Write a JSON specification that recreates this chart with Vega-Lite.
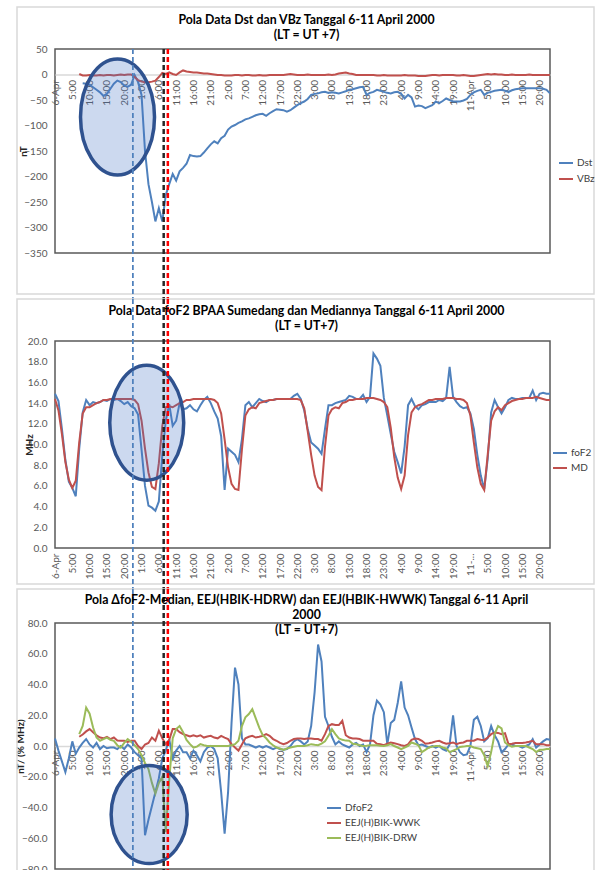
{
  "$schema": "https://vega.github.io/schema/vega-lite/v6.json",
  "padding": {"left": 14, "top": 5, "right": 0, "bottom": 0},
  "autosize": {"type": "pad"},
  "bounds": "flush",
  "spacing": 88,
  "datasets": {
    "events": [{"ev": "onset", "h": 22.5}, {"ev": "ssc", "h": 31.4}, {"ev": "main", "h": 32.6}],
    "dst": [
      {"h":7,"VBz":1},{"h":8,"Dst":-17,"VBz":-2},{"h":9,"Dst":-18,"VBz":-2},{"h":10,"Dst":-20,"VBz":-1},{"h":11,"Dst":-25,"VBz":-2},{"h":12,"Dst":-30,"VBz":-2},{"h":13,"Dst":-35,"VBz":-1},{"h":14,"Dst":-42,"VBz":-2},{"h":15,"Dst":-38,"VBz":-1},{"h":16,"Dst":-28,"VBz":-1},{"h":17,"Dst":-18,"VBz":-2},{"h":18,"Dst":-12,"VBz":-1},{"h":19,"Dst":-15,"VBz":0},{"h":20,"Dst":-22,"VBz":-1},{"h":21,"Dst":-24,"VBz":0},{"h":22,"Dst":-20,"VBz":0},{"h":23,"Dst":-1,"VBz":-5},{"h":24,"Dst":-15,"VBz":-11},{"h":25,"Dst":-40,"VBz":-14},{"h":26,"Dst":-150,"VBz":-15},{"h":27,"Dst":-215,"VBz":-15},{"h":28,"Dst":-250,"VBz":-14},{"h":29,"Dst":-288,"VBz":-12},{"h":30,"Dst":-262,"VBz":-5},{"h":31,"Dst":-288,"VBz":3},{"h":32,"Dst":-236,"VBz":1},{"h":33,"Dst":-215,"VBz":4},{"h":34,"Dst":-195,"VBz":1},{"h":35,"Dst":-208,"VBz":-1},{"h":36,"Dst":-190,"VBz":4},{"h":37,"Dst":-183,"VBz":8},{"h":38,"Dst":-175,"VBz":6},{"h":39,"Dst":-158,"VBz":5},{"h":40,"Dst":-160,"VBz":4},{"h":41,"Dst":-161,"VBz":4},{"h":42,"Dst":-160,"VBz":3},{"h":43,"Dst":-153,"VBz":2},{"h":44,"Dst":-145,"VBz":2},{"h":45,"Dst":-137,"VBz":1},{"h":46,"Dst":-131,"VBz":0},{"h":47,"Dst":-135,"VBz":-1},{"h":48,"Dst":-125,"VBz":-1},{"h":49,"Dst":-120,"VBz":-2},{"h":50,"Dst":-108,"VBz":-2},{"h":51,"Dst":-102,"VBz":-2},{"h":52,"Dst":-99,"VBz":-1},{"h":53,"Dst":-95,"VBz":-1},{"h":54,"Dst":-92,"VBz":-2},{"h":55,"Dst":-88,"VBz":-1},{"h":56,"Dst":-86,"VBz":-1},{"h":57,"Dst":-83,"VBz":-2},{"h":58,"Dst":-80,"VBz":-2},{"h":59,"Dst":-78,"VBz":-1},{"h":60,"Dst":-77,"VBz":-2},{"h":61,"Dst":-81,"VBz":-2},{"h":62,"Dst":-76,"VBz":-1},{"h":63,"Dst":-72,"VBz":-1},{"h":64,"Dst":-68,"VBz":-1},{"h":65,"Dst":-69,"VBz":-1},{"h":66,"Dst":-70,"VBz":-1},{"h":67,"Dst":-73,"VBz":0},{"h":68,"Dst":-70,"VBz":1},{"h":69,"Dst":-65,"VBz":0},{"h":70,"Dst":-60,"VBz":-1},{"h":71,"Dst":-56,"VBz":-1},{"h":72,"Dst":-53,"VBz":-1},{"h":73,"Dst":-48,"VBz":0},{"h":74,"Dst":-40,"VBz":-1},{"h":75,"Dst":-38,"VBz":-1},{"h":76,"Dst":-37,"VBz":-1},{"h":77,"Dst":-35,"VBz":-1},{"h":78,"Dst":-34,"VBz":-1},{"h":79,"Dst":-36,"VBz":0},{"h":80,"Dst":-35,"VBz":-1},{"h":81,"Dst":-36,"VBz":0},{"h":82,"Dst":-37,"VBz":2},{"h":83,"Dst":-35,"VBz":3},{"h":84,"Dst":-33,"VBz":4},{"h":85,"Dst":-30,"VBz":2},{"h":86,"Dst":-29,"VBz":1},{"h":87,"Dst":-27,"VBz":-1},{"h":88,"Dst":-25,"VBz":-1},{"h":89,"Dst":-24,"VBz":-1},{"h":90,"Dst":-40,"VBz":-1},{"h":91,"Dst":-36,"VBz":-1},{"h":92,"Dst":-34,"VBz":-1},{"h":93,"Dst":-30,"VBz":-2},{"h":94,"Dst":-32,"VBz":-2},{"h":95,"Dst":-34,"VBz":-1},{"h":96,"Dst":-36,"VBz":-2},{"h":97,"Dst":-37,"VBz":-2},{"h":98,"Dst":-35,"VBz":-2},{"h":99,"Dst":-34,"VBz":-2},{"h":100,"Dst":-38,"VBz":-2},{"h":101,"Dst":-47,"VBz":-1},{"h":102,"Dst":-40,"VBz":-2},{"h":103,"Dst":-45,"VBz":-2},{"h":104,"Dst":-63,"VBz":-2},{"h":105,"Dst":-61,"VBz":-3},{"h":106,"Dst":-62,"VBz":-3},{"h":107,"Dst":-66,"VBz":-3},{"h":108,"Dst":-63,"VBz":-2},{"h":109,"Dst":-60,"VBz":-1},{"h":110,"Dst":-53,"VBz":-1},{"h":111,"Dst":-56,"VBz":-2},{"h":112,"Dst":-52,"VBz":-1},{"h":113,"Dst":-47,"VBz":-1},{"h":114,"Dst":-50,"VBz":-1},{"h":115,"Dst":-53,"VBz":-1},{"h":116,"Dst":-53,"VBz":-2},{"h":117,"Dst":-53,"VBz":-2},{"h":118,"Dst":-51,"VBz":-1},{"h":119,"Dst":-48,"VBz":-2},{"h":120,"Dst":-40,"VBz":-3},{"h":121,"Dst":-35,"VBz":-3},{"h":122,"Dst":-32,"VBz":-2},{"h":123,"Dst":-30,"VBz":-1},{"h":124,"Dst":-40,"VBz":0},{"h":125,"Dst":-36,"VBz":1},{"h":126,"Dst":-34,"VBz":0},{"h":127,"Dst":-32,"VBz":1},{"h":128,"Dst":-31,"VBz":0},{"h":129,"Dst":-30,"VBz":0},{"h":130,"Dst":-32,"VBz":-1},{"h":131,"Dst":-34,"VBz":-1},{"h":132,"Dst":-31,"VBz":0},{"h":133,"Dst":-29,"VBz":-1},{"h":134,"Dst":-28,"VBz":-1},{"h":135,"Dst":-27,"VBz":-1},{"h":136,"Dst":-27,"VBz":-1},{"h":137,"Dst":-27,"VBz":0},{"h":138,"Dst":-27,"VBz":-1},{"h":139,"Dst":-27,"VBz":-1},{"h":140,"Dst":-27,"VBz":-1},{"h":141,"Dst":-28,"VBz":-1},{"h":142,"Dst":-30,"VBz":-1},{"h":143,"Dst":-37,"VBz":-1}
    ],
    "fof2": [
      {"h":0,"foF2":14.9,"MD":14.4},{"h":1,"foF2":14.2,"MD":13.3},{"h":2,"foF2":11.5,"MD":11.0},{"h":3,"foF2":8.5,"MD":8.3},{"h":4,"foF2":6.4,"MD":6.6},{"h":5,"foF2":5.8,"MD":5.8},{"h":6,"foF2":5.0,"MD":6.5},{"h":7,"foF2":9.6,"MD":10.2},{"h":8,"foF2":13.1,"MD":13.0},{"h":9,"foF2":14.3,"MD":13.6},{"h":10,"foF2":13.8,"MD":13.6},{"h":11,"foF2":14.1,"MD":13.8},{"h":12,"foF2":14.0,"MD":14.0},{"h":13,"foF2":14.1,"MD":14.1},{"h":14,"foF2":14.3,"MD":14.3},{"h":15,"foF2":14.2,"MD":14.3},{"h":16,"foF2":14.4,"MD":14.4},{"h":17,"foF2":14.3,"MD":14.4},{"h":18,"foF2":14.4,"MD":14.4},{"h":19,"foF2":14.2,"MD":14.4},{"h":20,"foF2":13.9,"MD":14.4},{"h":21,"foF2":14.1,"MD":14.4},{"h":22,"foF2":13.7,"MD":14.4},{"h":23,"foF2":13.5,"MD":14.3},{"h":24,"foF2":12.9,"MD":13.9},{"h":25,"foF2":9.5,"MD":12.3},{"h":26,"foF2":6.0,"MD":9.6},{"h":27,"foF2":4.1,"MD":7.3},{"h":28,"foF2":3.9,"MD":5.9},{"h":29,"foF2":3.6,"MD":5.7},{"h":30,"foF2":4.5,"MD":8.2},{"h":31,"foF2":9.0,"MD":11.8},{"h":32,"foF2":12.3,"MD":13.6},{"h":33,"foF2":13.9,"MD":13.7},{"h":34,"foF2":11.8,"MD":13.6},{"h":35,"foF2":12.3,"MD":13.8},{"h":36,"foF2":14.0,"MD":14.0},{"h":37,"foF2":13.4,"MD":14.1},{"h":38,"foF2":13.5,"MD":14.3},{"h":39,"foF2":13.8,"MD":14.3},{"h":40,"foF2":13.4,"MD":14.4},{"h":41,"foF2":13.2,"MD":14.4},{"h":42,"foF2":13.8,"MD":14.4},{"h":43,"foF2":14.3,"MD":14.4},{"h":44,"foF2":14.6,"MD":14.4},{"h":45,"foF2":14.0,"MD":14.4},{"h":46,"foF2":13.2,"MD":14.3},{"h":47,"foF2":12.5,"MD":14.0},{"h":48,"foF2":10.8,"MD":13.0},{"h":49,"foF2":5.6,"MD":10.5},{"h":50,"foF2":9.6,"MD":7.8},{"h":51,"foF2":9.3,"MD":6.2},{"h":52,"foF2":9.0,"MD":5.7},{"h":53,"foF2":8.3,"MD":5.6},{"h":54,"foF2":10.5,"MD":9.5},{"h":55,"foF2":13.8,"MD":12.8},{"h":56,"foF2":14.1,"MD":13.4},{"h":57,"foF2":13.6,"MD":13.6},{"h":58,"foF2":14.0,"MD":13.5},{"h":59,"foF2":14.4,"MD":14.0},{"h":60,"foF2":14.2,"MD":14.1},{"h":61,"foF2":14.1,"MD":14.2},{"h":62,"foF2":14.3,"MD":14.3},{"h":63,"foF2":14.3,"MD":14.3},{"h":64,"foF2":14.4,"MD":14.4},{"h":65,"foF2":14.4,"MD":14.4},{"h":66,"foF2":14.4,"MD":14.4},{"h":67,"foF2":14.4,"MD":14.4},{"h":68,"foF2":14.4,"MD":14.4},{"h":69,"foF2":14.7,"MD":14.4},{"h":70,"foF2":14.9,"MD":14.4},{"h":71,"foF2":14.4,"MD":14.3},{"h":72,"foF2":13.3,"MD":13.5},{"h":73,"foF2":11.5,"MD":11.3},{"h":74,"foF2":10.2,"MD":9.0},{"h":75,"foF2":9.9,"MD":7.0},{"h":76,"foF2":9.6,"MD":5.9},{"h":77,"foF2":9.1,"MD":5.6},{"h":78,"foF2":11.5,"MD":9.8},{"h":79,"foF2":13.8,"MD":12.8},{"h":80,"foF2":13.8,"MD":13.4},{"h":81,"foF2":14.0,"MD":13.6},{"h":82,"foF2":14.1,"MD":13.5},{"h":83,"foF2":14.2,"MD":14.0},{"h":84,"foF2":14.3,"MD":14.1},{"h":85,"foF2":14.7,"MD":14.3},{"h":86,"foF2":14.6,"MD":14.3},{"h":87,"foF2":14.4,"MD":14.4},{"h":88,"foF2":14.4,"MD":14.4},{"h":89,"foF2":14.8,"MD":14.4},{"h":90,"foF2":14.1,"MD":14.5},{"h":91,"foF2":14.6,"MD":14.5},{"h":92,"foF2":18.8,"MD":14.5},{"h":93,"foF2":18.3,"MD":14.4},{"h":94,"foF2":17.6,"MD":14.3},{"h":95,"foF2":14.5,"MD":14.1},{"h":96,"foF2":12.8,"MD":13.6},{"h":97,"foF2":11.0,"MD":11.6},{"h":98,"foF2":9.3,"MD":8.8},{"h":99,"foF2":8.3,"MD":6.8},{"h":100,"foF2":7.2,"MD":5.7},{"h":101,"foF2":9.8,"MD":7.0},{"h":102,"foF2":13.8,"MD":10.9},{"h":103,"foF2":14.4,"MD":13.1},{"h":104,"foF2":13.7,"MD":13.6},{"h":105,"foF2":13.4,"MD":13.8},{"h":106,"foF2":13.8,"MD":13.9},{"h":107,"foF2":13.9,"MD":14.1},{"h":108,"foF2":14.1,"MD":14.3},{"h":109,"foF2":14.1,"MD":14.3},{"h":110,"foF2":14.1,"MD":14.4},{"h":111,"foF2":14.3,"MD":14.4},{"h":112,"foF2":14.2,"MD":14.4},{"h":113,"foF2":14.5,"MD":14.5},{"h":114,"foF2":17.5,"MD":14.5},{"h":115,"foF2":14.6,"MD":14.5},{"h":116,"foF2":14.1,"MD":14.4},{"h":117,"foF2":13.7,"MD":14.4},{"h":118,"foF2":13.5,"MD":14.3},{"h":119,"foF2":13.6,"MD":14.0},{"h":120,"foF2":13.0,"MD":12.8},{"h":121,"foF2":11.5,"MD":10.2},{"h":122,"foF2":9.0,"MD":7.8},{"h":123,"foF2":7.0,"MD":6.2},{"h":124,"foF2":5.7,"MD":5.6},{"h":125,"foF2":8.6,"MD":9.0},{"h":126,"foF2":13.1,"MD":12.3},{"h":127,"foF2":14.3,"MD":13.2},{"h":128,"foF2":13.6,"MD":13.6},{"h":129,"foF2":13.0,"MD":13.3},{"h":130,"foF2":13.6,"MD":13.8},{"h":131,"foF2":14.3,"MD":14.0},{"h":132,"foF2":14.5,"MD":14.2},{"h":133,"foF2":14.4,"MD":14.3},{"h":134,"foF2":14.4,"MD":14.4},{"h":135,"foF2":14.5,"MD":14.4},{"h":136,"foF2":14.5,"MD":14.5},{"h":137,"foF2":14.5,"MD":14.5},{"h":138,"foF2":15.2,"MD":14.5},{"h":139,"foF2":14.3,"MD":14.6},{"h":140,"foF2":14.9,"MD":14.5},{"h":141,"foF2":15.0,"MD":14.4},{"h":142,"foF2":14.9,"MD":14.3},{"h":143,"foF2":14.9,"MD":14.3}
    ],
    "eej": [
      {"h":0,"DfoF2":4.9},{"h":1,"DfoF2":-3},{"h":2,"DfoF2":-10},{"h":3,"DfoF2":-17},{"h":4,"DfoF2":-8},{"h":5,"DfoF2":3},{"h":6,"DfoF2":-5},
      {"h":7,"DfoF2":-1,"EEJ(H)BIK-WWK":6,"EEJ(H)BIK-DRW":7.7},{"h":8,"DfoF2":2,"EEJ(H)BIK-WWK":7.5,"EEJ(H)BIK-DRW":13},{"h":9,"DfoF2":4.5,"EEJ(H)BIK-WWK":9.5,"EEJ(H)BIK-DRW":25},{"h":10,"DfoF2":1,"EEJ(H)BIK-WWK":11,"EEJ(H)BIK-DRW":21},{"h":11,"DfoF2":-1,"EEJ(H)BIK-WWK":9,"EEJ(H)BIK-DRW":12},{"h":12,"DfoF2":2,"EEJ(H)BIK-WWK":7,"EEJ(H)BIK-DRW":5.5},{"h":13,"DfoF2":-2,"EEJ(H)BIK-WWK":5.5,"EEJ(H)BIK-DRW":3.4},{"h":14,"DfoF2":0,"EEJ(H)BIK-WWK":5,"EEJ(H)BIK-DRW":4.5},{"h":15,"DfoF2":-1.5,"EEJ(H)BIK-WWK":6,"EEJ(H)BIK-DRW":5.5},{"h":16,"DfoF2":-1,"EEJ(H)BIK-WWK":4.5,"EEJ(H)BIK-DRW":4},{"h":17,"DfoF2":-1,"EEJ(H)BIK-WWK":5.5,"EEJ(H)BIK-DRW":3.4},{"h":18,"DfoF2":-2,"EEJ(H)BIK-WWK":3.5,"EEJ(H)BIK-DRW":0.5},{"h":19,"DfoF2":0,"EEJ(H)BIK-WWK":3.4,"EEJ(H)BIK-DRW":-1},{"h":20,"DfoF2":-2,"EEJ(H)BIK-WWK":3.4,"EEJ(H)BIK-DRW":2},{"h":21,"DfoF2":1,"EEJ(H)BIK-WWK":2.7,"EEJ(H)BIK-DRW":4.5},{"h":22,"DfoF2":-1,"EEJ(H)BIK-WWK":3.4,"EEJ(H)BIK-DRW":2.7},{"h":23,"DfoF2":-4,"EEJ(H)BIK-WWK":3.4,"EEJ(H)BIK-DRW":0.5},{"h":24,"DfoF2":-6,"EEJ(H)BIK-WWK":0,"EEJ(H)BIK-DRW":-2},{"h":25,"DfoF2":-8,"EEJ(H)BIK-WWK":-2,"EEJ(H)BIK-DRW":-6},{"h":26,"DfoF2":-58,"EEJ(H)BIK-WWK":1,"EEJ(H)BIK-DRW":-11},{"h":27,"DfoF2":-48,"EEJ(H)BIK-WWK":2,"EEJ(H)BIK-DRW":-15},{"h":28,"DfoF2":-39,"EEJ(H)BIK-WWK":5.5,"EEJ(H)BIK-DRW":-24},{"h":29,"DfoF2":-30,"EEJ(H)BIK-WWK":3.4,"EEJ(H)BIK-DRW":-31},{"h":30,"DfoF2":-21,"EEJ(H)BIK-WWK":10,"EEJ(H)BIK-DRW":-24},{"h":31,"DfoF2":-8,"EEJ(H)BIK-WWK":5,"EEJ(H)BIK-DRW":-20},{"h":32,"DfoF2":-3,"EEJ(H)BIK-WWK":1.2,"EEJ(H)BIK-DRW":-56},{"h":33,"DfoF2":4.5,"EEJ(H)BIK-WWK":4,"EEJ(H)BIK-DRW":-22},{"h":34,"DfoF2":-8,"EEJ(H)BIK-WWK":11,"EEJ(H)BIK-DRW":5},{"h":35,"DfoF2":-3,"EEJ(H)BIK-WWK":11,"EEJ(H)BIK-DRW":11},{"h":36,"DfoF2":0,"EEJ(H)BIK-WWK":9,"EEJ(H)BIK-DRW":13},{"h":37,"DfoF2":-4,"EEJ(H)BIK-WWK":7.7,"EEJ(H)BIK-DRW":9},{"h":38,"DfoF2":-4,"EEJ(H)BIK-WWK":7,"EEJ(H)BIK-DRW":4},{"h":39,"DfoF2":-8,"EEJ(H)BIK-WWK":6.2,"EEJ(H)BIK-DRW":1.2},{"h":40,"DfoF2":-3,"EEJ(H)BIK-WWK":7,"EEJ(H)BIK-DRW":-1},{"h":41,"DfoF2":-6,"EEJ(H)BIK-WWK":6.2,"EEJ(H)BIK-DRW":-0.4},{"h":42,"DfoF2":-10,"EEJ(H)BIK-WWK":7,"EEJ(H)BIK-DRW":1.2},{"h":43,"DfoF2":-4,"EEJ(H)BIK-WWK":5.5,"EEJ(H)BIK-DRW":0.5},{"h":44,"DfoF2":-1,"EEJ(H)BIK-WWK":6.2,"EEJ(H)BIK-DRW":0},{"h":45,"DfoF2":0,"EEJ(H)BIK-WWK":6.6,"EEJ(H)BIK-DRW":0},{"h":46,"DfoF2":-2,"EEJ(H)BIK-WWK":5.5,"EEJ(H)BIK-DRW":0},{"h":47,"DfoF2":-8,"EEJ(H)BIK-WWK":5,"EEJ(H)BIK-DRW":0},{"h":48,"DfoF2":-30,"EEJ(H)BIK-WWK":6.6,"EEJ(H)BIK-DRW":0},{"h":49,"DfoF2":-57,"EEJ(H)BIK-WWK":5.5,"EEJ(H)BIK-DRW":0},{"h":50,"DfoF2":-30,"EEJ(H)BIK-WWK":4.5,"EEJ(H)BIK-DRW":0},{"h":51,"DfoF2":15,"EEJ(H)BIK-WWK":1.2,"EEJ(H)BIK-DRW":0.5},{"h":52,"DfoF2":51,"EEJ(H)BIK-WWK":-1,"EEJ(H)BIK-DRW":1.2},{"h":53,"DfoF2":40,"EEJ(H)BIK-WWK":-3,"EEJ(H)BIK-DRW":3.4},{"h":54,"DfoF2":5,"EEJ(H)BIK-WWK":1,"EEJ(H)BIK-DRW":13},{"h":55,"DfoF2":1,"EEJ(H)BIK-WWK":5,"EEJ(H)BIK-DRW":18.6},{"h":56,"DfoF2":1,"EEJ(H)BIK-WWK":6,"EEJ(H)BIK-DRW":20.8},{"h":57,"DfoF2":0,"EEJ(H)BIK-WWK":6.6,"EEJ(H)BIK-DRW":24},{"h":58,"DfoF2":-1,"EEJ(H)BIK-WWK":5.5,"EEJ(H)BIK-DRW":18},{"h":59,"DfoF2":0,"EEJ(H)BIK-WWK":6,"EEJ(H)BIK-DRW":12},{"h":60,"DfoF2":-1,"EEJ(H)BIK-WWK":6.6,"EEJ(H)BIK-DRW":7},{"h":61,"DfoF2":0,"EEJ(H)BIK-WWK":7.7,"EEJ(H)BIK-DRW":5},{"h":62,"DfoF2":-1,"EEJ(H)BIK-WWK":6.6,"EEJ(H)BIK-DRW":2.3},{"h":63,"DfoF2":-2,"EEJ(H)BIK-WWK":4.5,"EEJ(H)BIK-DRW":0.5},{"h":64,"DfoF2":-1,"EEJ(H)BIK-WWK":3.4,"EEJ(H)BIK-DRW":-1},{"h":65,"DfoF2":-2,"EEJ(H)BIK-WWK":2,"EEJ(H)BIK-DRW":-1.6},{"h":66,"DfoF2":-2.5,"EEJ(H)BIK-WWK":1.2,"EEJ(H)BIK-DRW":-2.5},{"h":67,"DfoF2":-2,"EEJ(H)BIK-WWK":1.9,"EEJ(H)BIK-DRW":-1.6},{"h":68,"DfoF2":0,"EEJ(H)BIK-WWK":3.4,"EEJ(H)BIK-DRW":-1},{"h":69,"DfoF2":3,"EEJ(H)BIK-WWK":4.5,"EEJ(H)BIK-DRW":-0.5},{"h":70,"DfoF2":4.5,"EEJ(H)BIK-WWK":4.9,"EEJ(H)BIK-DRW":0},{"h":71,"DfoF2":3,"EEJ(H)BIK-WWK":4.9,"EEJ(H)BIK-DRW":0},{"h":72,"DfoF2":1,"EEJ(H)BIK-WWK":4.5,"EEJ(H)BIK-DRW":0},{"h":73,"DfoF2":3,"EEJ(H)BIK-WWK":4.9,"EEJ(H)BIK-DRW":0.5},{"h":74,"DfoF2":13,"EEJ(H)BIK-WWK":4.9,"EEJ(H)BIK-DRW":1.2},{"h":75,"DfoF2":35,"EEJ(H)BIK-WWK":4.5,"EEJ(H)BIK-DRW":0.8},{"h":76,"DfoF2":66,"EEJ(H)BIK-WWK":4.5,"EEJ(H)BIK-DRW":0.5},{"h":77,"DfoF2":55,"EEJ(H)BIK-WWK":3.4,"EEJ(H)BIK-DRW":1.6},{"h":78,"DfoF2":19,"EEJ(H)BIK-WWK":7.7,"EEJ(H)BIK-DRW":3},{"h":79,"DfoF2":13,"EEJ(H)BIK-WWK":13,"EEJ(H)BIK-DRW":6.6},{"h":80,"DfoF2":6,"EEJ(H)BIK-WWK":14.2,"EEJ(H)BIK-DRW":11},{"h":81,"DfoF2":1,"EEJ(H)BIK-WWK":13.6,"EEJ(H)BIK-DRW":7.7},{"h":82,"DfoF2":3,"EEJ(H)BIK-WWK":13.6,"EEJ(H)BIK-DRW":5},{"h":83,"DfoF2":1,"EEJ(H)BIK-WWK":16.4,"EEJ(H)BIK-DRW":4},{"h":84,"DfoF2":0,"EEJ(H)BIK-WWK":7,"EEJ(H)BIK-DRW":3.5},{"h":85,"DfoF2":-1,"EEJ(H)BIK-WWK":5.5,"EEJ(H)BIK-DRW":3.4},{"h":86,"DfoF2":1,"EEJ(H)BIK-WWK":4.9,"EEJ(H)BIK-DRW":1.5},{"h":87,"DfoF2":2,"EEJ(H)BIK-WWK":4.8,"EEJ(H)BIK-DRW":1.2},{"h":88,"DfoF2":0,"EEJ(H)BIK-WWK":4.5,"EEJ(H)BIK-DRW":0.5},{"h":89,"DfoF2":1,"EEJ(H)BIK-WWK":3.4,"EEJ(H)BIK-DRW":0},{"h":90,"DfoF2":-4,"EEJ(H)BIK-WWK":3.4,"EEJ(H)BIK-DRW":0.2},{"h":91,"DfoF2":1,"EEJ(H)BIK-WWK":3.4,"EEJ(H)BIK-DRW":0.5},{"h":92,"DfoF2":20,"EEJ(H)BIK-WWK":3.4,"EEJ(H)BIK-DRW":0.5},{"h":93,"DfoF2":29.5,"EEJ(H)BIK-WWK":1.5,"EEJ(H)BIK-DRW":0.5},{"h":94,"DfoF2":27,"EEJ(H)BIK-WWK":1.2,"EEJ(H)BIK-DRW":0.2},{"h":95,"DfoF2":22,"EEJ(H)BIK-WWK":0.5,"EEJ(H)BIK-DRW":0},{"h":96,"DfoF2":1,"EEJ(H)BIK-WWK":1.5,"EEJ(H)BIK-DRW":0.5},{"h":97,"DfoF2":15,"EEJ(H)BIK-WWK":2.3,"EEJ(H)BIK-DRW":1.2},{"h":98,"DfoF2":17,"EEJ(H)BIK-WWK":1.8,"EEJ(H)BIK-DRW":0},{"h":99,"DfoF2":28,"EEJ(H)BIK-WWK":1.2,"EEJ(H)BIK-DRW":-1},{"h":100,"DfoF2":42,"EEJ(H)BIK-WWK":0.5,"EEJ(H)BIK-DRW":-2},{"h":101,"DfoF2":25,"EEJ(H)BIK-WWK":0,"EEJ(H)BIK-DRW":-1},{"h":102,"DfoF2":20,"EEJ(H)BIK-WWK":1,"EEJ(H)BIK-DRW":0},{"h":103,"DfoF2":12,"EEJ(H)BIK-WWK":4,"EEJ(H)BIK-DRW":2.3},{"h":104,"DfoF2":4.5,"EEJ(H)BIK-WWK":4.9,"EEJ(H)BIK-DRW":1.5},{"h":105,"DfoF2":0.5,"EEJ(H)BIK-WWK":4.5,"EEJ(H)BIK-DRW":0.5},{"h":106,"DfoF2":1,"EEJ(H)BIK-WWK":3.4,"EEJ(H)BIK-DRW":-4},{"h":107,"DfoF2":0,"EEJ(H)BIK-WWK":1.5,"EEJ(H)BIK-DRW":-2.5},{"h":108,"DfoF2":-1,"EEJ(H)BIK-WWK":1.8,"EEJ(H)BIK-DRW":-1},{"h":109,"DfoF2":0,"EEJ(H)BIK-WWK":2.3,"EEJ(H)BIK-DRW":-0.4},{"h":110,"DfoF2":-1,"EEJ(H)BIK-WWK":3,"EEJ(H)BIK-DRW":0},{"h":111,"DfoF2":0,"EEJ(H)BIK-WWK":3.4,"EEJ(H)BIK-DRW":0},{"h":112,"DfoF2":-2,"EEJ(H)BIK-WWK":2.3,"EEJ(H)BIK-DRW":-1},{"h":113,"DfoF2":-3,"EEJ(H)BIK-WWK":1.5,"EEJ(H)BIK-DRW":-1.6},{"h":114,"DfoF2":1,"EEJ(H)BIK-WWK":1.8,"EEJ(H)BIK-DRW":-4},{"h":115,"DfoF2":20,"EEJ(H)BIK-WWK":2.3,"EEJ(H)BIK-DRW":-3},{"h":116,"DfoF2":0,"EEJ(H)BIK-WWK":1.2,"EEJ(H)BIK-DRW":-2},{"h":117,"DfoF2":-4,"EEJ(H)BIK-WWK":2,"EEJ(H)BIK-DRW":-0.6},{"h":118,"DfoF2":-6,"EEJ(H)BIK-WWK":2.3,"EEJ(H)BIK-DRW":-0.4},{"h":119,"DfoF2":-5.5,"EEJ(H)BIK-WWK":3.4,"EEJ(H)BIK-DRW":0},{"h":120,"DfoF2":0,"EEJ(H)BIK-WWK":3.4,"EEJ(H)BIK-DRW":0},{"h":121,"DfoF2":17,"EEJ(H)BIK-WWK":3.4,"EEJ(H)BIK-DRW":-1},{"h":122,"DfoF2":19,"EEJ(H)BIK-WWK":4.5,"EEJ(H)BIK-DRW":-1.5},{"h":123,"DfoF2":13,"EEJ(H)BIK-WWK":4,"EEJ(H)BIK-DRW":-2},{"h":124,"DfoF2":3,"EEJ(H)BIK-WWK":3.8,"EEJ(H)BIK-DRW":-6},{"h":125,"DfoF2":5,"EEJ(H)BIK-WWK":5.5,"EEJ(H)BIK-DRW":-13},{"h":126,"DfoF2":13,"EEJ(H)BIK-WWK":7.7,"EEJ(H)BIK-DRW":-4},{"h":127,"DfoF2":7,"EEJ(H)BIK-WWK":8.8,"EEJ(H)BIK-DRW":7.7},{"h":128,"DfoF2":3,"EEJ(H)BIK-WWK":8.5,"EEJ(H)BIK-DRW":13},{"h":129,"DfoF2":-4,"EEJ(H)BIK-WWK":7.7,"EEJ(H)BIK-DRW":11.4},{"h":130,"DfoF2":-2,"EEJ(H)BIK-WWK":8.3,"EEJ(H)BIK-DRW":2.3},{"h":131,"DfoF2":1,"EEJ(H)BIK-WWK":1.2,"EEJ(H)BIK-DRW":0.5},{"h":132,"DfoF2":1,"EEJ(H)BIK-WWK":1.5,"EEJ(H)BIK-DRW":-0.4},{"h":133,"DfoF2":0,"EEJ(H)BIK-WWK":1.9,"EEJ(H)BIK-DRW":0},{"h":134,"DfoF2":0,"EEJ(H)BIK-WWK":1.9,"EEJ(H)BIK-DRW":0},{"h":135,"DfoF2":-1,"EEJ(H)BIK-WWK":2,"EEJ(H)BIK-DRW":0},{"h":136,"DfoF2":0,"EEJ(H)BIK-WWK":2.3,"EEJ(H)BIK-DRW":0},{"h":137,"DfoF2":1,"EEJ(H)BIK-WWK":2.8,"EEJ(H)BIK-DRW":-1},{"h":138,"DfoF2":4.5,"EEJ(H)BIK-WWK":3.4,"EEJ(H)BIK-DRW":-2},{"h":139,"DfoF2":-1,"EEJ(H)BIK-WWK":1.2,"EEJ(H)BIK-DRW":-3.9},{"h":140,"DfoF2":1,"EEJ(H)BIK-WWK":1.2,"EEJ(H)BIK-DRW":-2.5},{"h":141,"DfoF2":3,"EEJ(H)BIK-WWK":1.2,"EEJ(H)BIK-DRW":-2.5},{"h":142,"DfoF2":4.5,"EEJ(H)BIK-WWK":0.5,"EEJ(H)BIK-DRW":-2},{"h":143,"DfoF2":4,"EEJ(H)BIK-WWK":0.5,"EEJ(H)BIK-DRW":-2}
    ]
  },
  "vconcat": [
    {
      "width": 495, "height": 204,
      "title": {"text": ["Pola Data Dst dan VBz Tanggal 6-11 April 2000", "(LT = UT +7)"], "offset": -35, "frame": "group", "dx": 4},
      "layer": [
        {
          "data": {"name": "dst"},
          "transform": [{"fold": ["Dst", "VBz"], "as": ["s", "v"]}],
          "mark": {"type": "line", "strokeWidth": 2},
          "encoding": {
            "x": {"field": "h", "type": "quantitative", "scale": {"domain": [0, 143], "nice": false, "zero": false},
              "axis": {"orient": "bottom", "offset": -178.5, "title": null, "tickCount": 60, "values": [0,5,10,15,20,25,30,35,40,45,50,55,60,65,70,75,80,85,90,95,100,105,110,115,120,125,130,135,140],
                "labelExpr": "datum.value == 0 ? '6-Apr' : datum.value == 120 ? '11-Apr' : (datum.value % 24) + ':00'",
                "labelAngle": -90, "labelOverlap": false, "labelFlush": false, "labelPadding": 5, "domainColor": "#d9d9d9", "domainWidth": 1.5}},
            "y": {"field": "v", "type": "quantitative", "scale": {"domain": [-350, 50], "nice": false, "zero": false},
              "axis": {"title": "nT", "tickCount": 30, "labelOverlap": false, "values": [50,0,-50,-100,-150,-200,-250,-300,-350], "format": "d", "titleX": -27}},
            "color": {"field": "s", "type": "nominal", "scale": {"domain": ["Dst", "VBz"], "range": ["#4f81bd", "#c0504d"]},
              "legend": {"orient": "none", "legendX": 503, "legendY": 106, "title": null, "rowPadding": 3}}
          }
        },
        {
          "data": {"values": [{}]},
          "mark": {"type": "rect", "fill": "white", "fillOpacity": 0, "stroke": "#d9d9d9", "strokeWidth": 1.5, "clip": false},
          "encoding": {
            "x": {"datum": -10.98, "type": "quantitative"},
            "x2": {"datum": 155.71},
            "y": {"datum": 132.35, "type": "quantitative"},
            "y2": {"datum": -430.4}
          }
        },
        {
          "data": {"values": [{}]},
          "mark": {"type": "point", "shape": "M0,-1C0.352,-1,0.638,-0.552,0.638,0C0.638,0.552,0.352,1,0,1C-0.352,1,-0.638,0.552,-0.638,0C-0.638,-0.552,-0.352,-1,0,-1Z", "size": 13456, "filled": true, "fill": "#4472c4", "fillOpacity": 0.27, "stroke": "#2f528f", "strokeWidth": 3.5, "opacity": 1, "clip": false},
          "encoding": {
            "x": {"datum": 18.06, "type": "quantitative"},
            "y": {"datum": -83.3, "type": "quantitative"}
          }
        },
        {
          "data": {"name": "events"},
          "transform": [{"filter": "datum.ev == 'onset'"}],
          "mark": {"type": "rule", "color": "#4f81bd", "strokeWidth": 1.75, "strokeDash": [5, 3], "clip": false},
          "encoding": {
            "x": {"field": "h", "type": "quantitative"},
            "y": {"datum": 50, "type": "quantitative"},
            "y2": {"datum": -440.2}
          }
        },
        {
          "data": {"name": "events"},
          "transform": [{"filter": "datum.ev == 'ssc'"}],
          "mark": {"type": "rule", "color": "#262626", "strokeWidth": 2.5, "strokeDash": [5, 3], "clip": false},
          "encoding": {
            "x": {"field": "h", "type": "quantitative"},
            "y": {"datum": 50, "type": "quantitative"},
            "y2": {"datum": -440.2}
          }
        },
        {
          "data": {"name": "events"},
          "transform": [{"filter": "datum.ev == 'main'"}],
          "mark": {"type": "rule", "color": "#ff0000", "strokeWidth": 2.5, "strokeDash": [5, 3], "clip": false},
          "encoding": {
            "x": {"field": "h", "type": "quantitative"},
            "y": {"datum": 50, "type": "quantitative"},
            "y2": {"datum": -440.2}
          }
        }
      ]
    },
    {
      "spacing": 75,
      "bounds": "flush",
      "resolve": {"scale": {"color": "independent"}, "legend": {"color": "independent"}},
      "vconcat": [
        {
          "width": 495, "height": 207,
          "title": {"text": ["Pola Data foF2 BPAA Sumedang dan Mediannya Tanggal 6-11 April 2000", "(LT = UT+7)"], "offset": -35, "frame": "group", "dx": 4},
          "layer": [
            {
              "data": {"name": "fof2"},
              "transform": [{"fold": ["foF2", "MD"], "as": ["s", "v"]}],
              "mark": {"type": "line", "strokeWidth": 2},
              "encoding": {
                "x": {"field": "h", "type": "quantitative", "scale": {"domain": [0, 143], "nice": false, "zero": false},
                  "axis": {"orient": "bottom", "title": null, "tickCount": 60, "values": [0,5,10,15,20,25,30,35,40,45,50,55,60,65,70,75,80,85,90,95,100,105,110,115,120,125,130,135,140],
                    "labelExpr": "datum.value == 0 ? '6-Apr' : datum.value == 120 ? '11-...' : (datum.value % 24) + ':00'",
                    "labelAngle": -90, "labelOverlap": false, "labelFlush": false, "labelPadding": 5, "domain": false}},
                "y": {"field": "v", "type": "quantitative", "scale": {"domain": [0, 20], "nice": false, "zero": false},
                  "axis": {"title": "MHz", "tickCount": 30, "labelOverlap": false, "values": [0,2,4,6,8,10,12,14,16,18,20], "format": ".1f", "titleX": -21}},
                "color": {"field": "s", "type": "nominal", "scale": {"domain": ["foF2", "MD"], "range": ["#4f81bd", "#c0504d"]},
                  "legend": {"orient": "none", "legendX": 497, "legendY": 104, "title": null, "rowPadding": 2}}
              }
            },
            {
              "data": {"values": [{}]},
              "mark": {"type": "rect", "fill": "white", "fillOpacity": 0, "stroke": "#d9d9d9", "strokeWidth": 1.5, "clip": false},
              "encoding": {
                "x": {"datum": -10.98, "type": "quantitative"},
                "x2": {"datum": 155.71},
                "y": {"datum": 24.06, "type": "quantitative"},
                "y2": {"datum": -3.48}
              }
            },
            {
              "data": {"values": [{}]},
              "mark": {"type": "point", "shape": "M0,-1C0.355,-1,0.643,-0.552,0.643,0C0.643,0.552,0.355,1,0,1C-0.355,1,-0.643,0.552,-0.643,0C-0.643,-0.552,-0.355,-1,0,-1Z", "size": 13225, "filled": true, "fill": "#4472c4", "fillOpacity": 0.27, "stroke": "#2f528f", "strokeWidth": 3.5, "opacity": 1, "clip": false},
              "encoding": {
                "x": {"datum": 26.5, "type": "quantitative"},
                "y": {"datum": 12.1, "type": "quantitative"}
              }
            },
            {
              "data": {"name": "events"},
              "transform": [{"filter": "datum.ev == 'onset'"}],
              "mark": {"type": "rule", "color": "#4f81bd", "strokeWidth": 1.75, "strokeDash": [5, 3], "clip": false},
              "encoding": {
                "x": {"field": "h", "type": "quantitative"},
                "y": {"datum": 24.06, "type": "quantitative"},
                "y2": {"datum": -3.96}
              }
            },
            {
              "data": {"name": "events"},
              "transform": [{"filter": "datum.ev == 'ssc'"}],
              "mark": {"type": "rule", "color": "#262626", "strokeWidth": 2.5, "strokeDash": [5, 3], "clip": false},
              "encoding": {
                "x": {"field": "h", "type": "quantitative"},
                "y": {"datum": 24.06, "type": "quantitative"},
                "y2": {"datum": -3.96}
              }
            },
            {
              "data": {"name": "events"},
              "transform": [{"filter": "datum.ev == 'main'"}],
              "mark": {"type": "rule", "color": "#ff0000", "strokeWidth": 2.5, "strokeDash": [5, 3], "clip": false},
              "encoding": {
                "x": {"field": "h", "type": "quantitative"},
                "y": {"datum": 24.06, "type": "quantitative"},
                "y2": {"datum": -3.96}
              }
            }
          ]
        },
        {
          "width": 495, "height": 246,
          "title": {"text": ["Pola ΔfoF2-Median, EEJ(HBIK-HDRW) dan EEJ(HBIK-HWWK) Tanggal 6-11 April", "2000", "(LT = UT+7)"], "offset": -49, "frame": "group", "dx": 4},
          "layer": [
            {
              "data": {"name": "eej"},
              "transform": [{"fold": ["DfoF2", "EEJ(H)BIK-WWK", "EEJ(H)BIK-DRW"], "as": ["s", "v"]}],
              "mark": {"type": "line", "strokeWidth": 2},
              "encoding": {
                "x": {"field": "h", "type": "quantitative", "scale": {"domain": [0, 143], "nice": false, "zero": false},
                  "axis": {"orient": "bottom", "offset": -123, "title": null, "tickCount": 60, "values": [0,5,10,15,20,25,30,35,40,45,50,55,60,65,70,75,80,85,90,95,100,105,110,115,120,125,130,135,140],
                    "labelExpr": "datum.value == 0 ? '6-Apr' : datum.value == 120 ? '11-Apr' : (datum.value % 24) + ':00'",
                    "labelAngle": -90, "labelOverlap": false, "labelFlush": false, "labelPadding": 4, "domainColor": "#d9d9d9", "domainWidth": 1.5}},
                "y": {"field": "v", "type": "quantitative", "scale": {"domain": [-80, 80], "nice": false, "zero": false},
                  "axis": {"title": "nT/ (% MHz)", "tickCount": 30, "labelOverlap": false, "values": [-80,-60,-40,-20,0,20,40,60,80], "format": ".1f", "titleX": -30}},
                "color": {"field": "s", "type": "nominal", "scale": {"domain": ["DfoF2", "EEJ(H)BIK-WWK", "EEJ(H)BIK-DRW"], "range": ["#4f81bd", "#c0504d", "#9bbb59"]},
                  "legend": {"orient": "none", "legendX": 271, "legendY": 177, "title": null, "rowPadding": 2}}
              }
            },
            {
              "data": {"values": [{}]},
              "mark": {"type": "rect", "fill": "white", "fillOpacity": 0, "stroke": "#d9d9d9", "strokeWidth": 1.5, "clip": false},
              "encoding": {
                "x": {"datum": -10.98, "type": "quantitative"},
                "x2": {"datum": 155.71},
                "y": {"datum": 102.1, "type": "quantitative"},
                "y2": {"datum": -86.5}
              }
            },
            {
              "data": {"values": [{}]},
              "mark": {"type": "point", "shape": "M0,-1C0.428,-1,0.776,-0.552,0.776,0C0.776,0.552,0.428,1,0,1C-0.428,1,-0.776,0.552,-0.776,0C-0.776,-0.552,-0.428,-1,0,-1Z", "size": 9604, "filled": true, "fill": "#4472c4", "fillOpacity": 0.27, "stroke": "#2f528f", "strokeWidth": 3.5, "opacity": 1, "clip": false},
              "encoding": {
                "x": {"datum": 27.2, "type": "quantitative"},
                "y": {"datum": -44.6, "type": "quantitative"}
              }
            },
            {
              "data": {"name": "events"},
              "transform": [{"filter": "datum.ev == 'onset'"}],
              "mark": {"type": "rule", "color": "#4f81bd", "strokeWidth": 1.75, "strokeDash": [5, 3], "clip": false},
              "encoding": {
                "x": {"field": "h", "type": "quantitative"},
                "y": {"datum": 102.1, "type": "quantitative"},
                "y2": {"datum": -86.5}
              }
            },
            {
              "data": {"name": "events"},
              "transform": [{"filter": "datum.ev == 'ssc'"}],
              "mark": {"type": "rule", "color": "#262626", "strokeWidth": 2.5, "strokeDash": [5, 3], "clip": false},
              "encoding": {
                "x": {"field": "h", "type": "quantitative"},
                "y": {"datum": 102.1, "type": "quantitative"},
                "y2": {"datum": -86.5}
              }
            },
            {
              "data": {"name": "events"},
              "transform": [{"filter": "datum.ev == 'main'"}],
              "mark": {"type": "rule", "color": "#ff0000", "strokeWidth": 2.5, "strokeDash": [5, 3], "clip": false},
              "encoding": {
                "x": {"field": "h", "type": "quantitative"},
                "y": {"datum": 102.1, "type": "quantitative"},
                "y2": {"datum": -86.5}
              }
            }
          ]
        }
      ]
    }
  ],
  "resolve": {"scale": {"color": "independent"}, "legend": {"color": "independent"}},
  "config": {
    "font": "Lato",
    "background": "white",
    "view": {"stroke": "#595959", "strokeWidth": 1.5},
    "axis": {"labelFont": "Lato", "labelFontSize": 10, "labelColor": "#595959", "ticks": false, "grid": false, "titleFont": "Lato", "titleFontSize": 10, "titleFontWeight": "bold", "titleColor": "#262626"},
    "axisY": {"domain": false, "labelPadding": 8},
    "title": {"font": "Lato", "fontSize": 12.3, "fontWeight": "bold", "color": "#000000", "lineHeight": 15, "anchor": "middle"},
    "legend": {"labelFont": "Lato", "labelFontSize": 10, "labelColor": "#404040", "symbolType": "stroke", "symbolSize": 196, "symbolStrokeWidth": 2, "padding": 0, "labelOffset": 3}
  }
}
